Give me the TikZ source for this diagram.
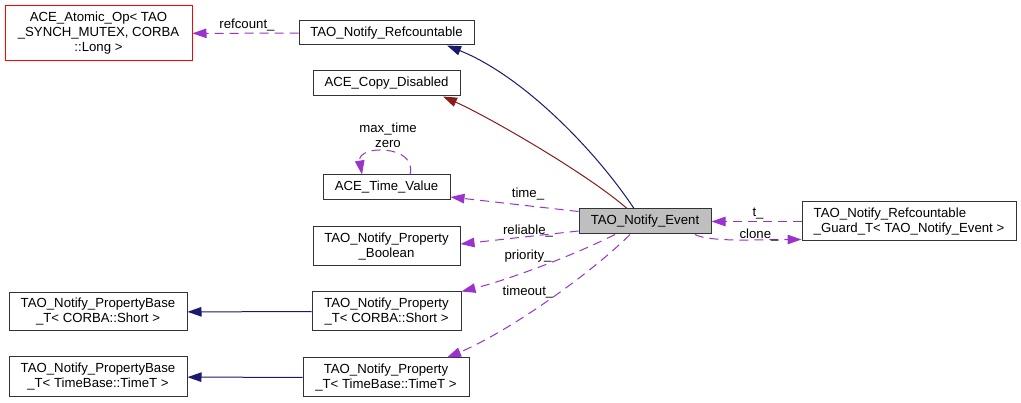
\documentclass[tikz,border=0pt]{standalone}
\usepackage{fontspec}
\setmainfont{Liberation Sans}
\usetikzlibrary{arrows.meta}
\definecolor{midnightblue}{RGB}{25, 25, 112}
\definecolor{firebrick}{RGB}{139, 26, 26}
\definecolor{darkorchid}{RGB}{154, 50, 205}
\definecolor{eventgray}{RGB}{191, 191, 191}

\begin{document}
\begin{tikzpicture}[x=1pt, y=-1pt,
    every node/.style={font=\fontsize{13.2}{15}\selectfont},
    classbox/.style={draw=black!80, line width=1pt, fill=white, align=center, inner sep=0pt},
    inherit/.style={line width=1pt, -{Triangle[length=14pt, width=9.5pt]}},
    usage/.style={darkorchid, line width=1pt, dash pattern=on 9pt off 6pt, -{Triangle[length=14pt, width=9.5pt]}},
    edgelabel/.style={inner sep=0pt}]
            % Frame to ensure alignment:
            \useasboundingbox[fill=white]                                 (0, 0) rectangle (1021, 403);
            \node[classbox, draw=red,       minimum width=187pt, minimum height=55pt] (atomic)  at ( 98.5,  33.5) {ACE\_Atomic\_Op< TAO\\\_SYNCH\_MUTEX, CORBA\\::Long >};
            \node[classbox,                 minimum width=175pt, minimum height=24pt] (refc)    at (386.5,  33.0) {TAO\_Notify\_Refcountable};
            \node[classbox,                 minimum width=147pt, minimum height=25pt] (copy)    at (386.5,  83.5) {ACE\_Copy\_Disabled};
            \node[classbox,                 minimum width=127pt, minimum height=25pt] (timev)   at (386.5, 187.5) {ACE\_Time\_Value};
            \node[classbox, fill=eventgray, minimum width=132pt, minimum height=25pt] (event)   at (645.0, 221.5) {TAO\_Notify\_Event};
            \node[classbox, align=left,     minimum width=214pt, minimum height=39pt] (guard)   at (909.0, 221.5) {TAO\_Notify\_Refcountable\\\_Guard\_T< TAO\_Notify\_Event >};
            \node[classbox,                 minimum width=147pt, minimum height=39pt] (bool)    at (386.5, 246.5) {TAO\_Notify\_Property\\\_Boolean};
            \node[classbox,                 minimum width=178pt, minimum height=38pt] (pbshort) at ( 98.0, 312.0) {TAO\_Notify\_PropertyBase\\\_T< CORBA::Short >};
            \node[classbox,                 minimum width=149pt, minimum height=39pt] (pshort)  at (386.5, 311.5) {TAO\_Notify\_Property\\\_T< CORBA::Short >};
            \node[classbox,                 minimum width=178pt, minimum height=40pt] (pbtime)  at ( 98.0, 377.0) {TAO\_Notify\_PropertyBase\\\_T< TimeBase::TimeT >};
            \node[classbox,                 minimum width=166pt, minimum height=39pt] (ptime)   at (386.0, 377.5) {TAO\_Notify\_Property\\\_T< TimeBase::TimeT >};

            \draw[inherit, midnightblue] ([xshift=-11pt]event.north) .. controls +(-40, -60) and +(75, 30) .. ([xshift=60.5pt]refc.south);
            \draw[inherit, firebrick]    ([xshift=-18pt]event.north) .. controls +(-40, -35) and +(45, 20) .. ([xshift=56.5pt]copy.south);
            \draw[inherit, midnightblue] (pshort) -- (pbshort);
            \draw[inherit, midnightblue] (ptime)  -- (pbtime);

            \draw[usage] (refc)  -- (atomic);
            \draw[usage] (guard) -- (event);
            \draw[usage] ([yshift=10pt]event.west)  -- ([yshift=-9.5pt]timev.east);
            \draw[usage] ([yshift=-9.5pt]event.west) -- ([yshift=2.5pt]bool.east);
            \draw[usage] ([xshift=-30pt]event.south) .. controls +(-50, 25) and +(40, -10) .. (pshort.north east);
            \draw[usage] ([xshift=-15pt]event.south) .. controls +(-40, 40) and +(60, -25) .. ([xshift=61pt]ptime.north);
            \draw[usage] ([xshift=50pt]event.south)  .. controls +(15, 8)   and +(-40, 0)  .. ([yshift=2pt]guard.south west);
            \draw[usage] ([xshift=23.5pt]timev.north) .. controls +(8, -30) and +(-5, -30) .. ([xshift=-24.5pt]timev.north);

            \node[edgelabel]              (lrefcount) at (247.0,  25.0) {refcount\_};
            \node[edgelabel, align=center] (lself)    at (388.0, 135.5) {max\_time\\zero};
            \node[edgelabel]              (ltime)     at (528.0, 194.0) {time\_};
            \node[edgelabel]              (lreliable) at (528.0, 231.0) {reliable\_};
            \node[edgelabel]              (lpriority) at (528.0, 256.0) {priority\_};
            \node[edgelabel]              (ltimeout)  at (528.0, 292.0) {timeout\_};
            \node[edgelabel]              (lt)        at (758.0, 214.0) {t\_};
            \node[edgelabel]              (lclone)    at (759.0, 235.0) {clone\_};
        \end{tikzpicture}
\end{document}
